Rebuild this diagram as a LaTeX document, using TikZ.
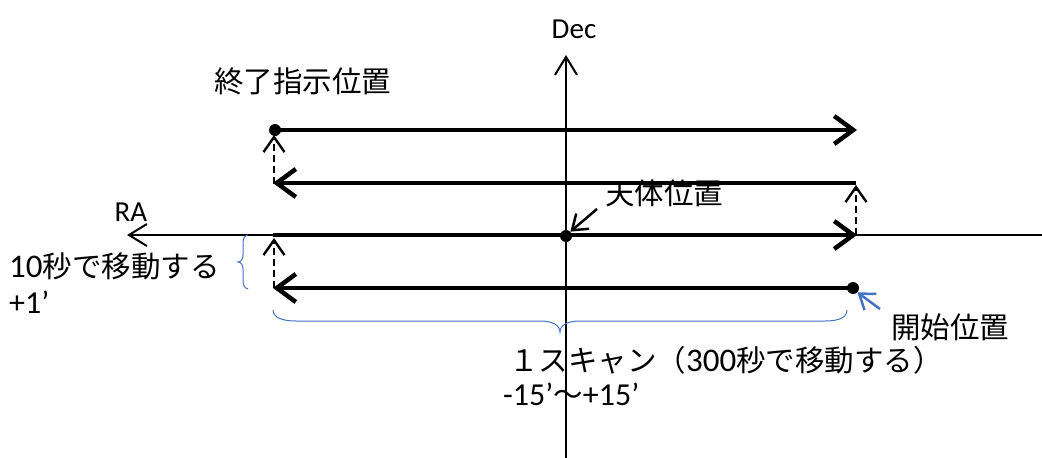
\documentclass[tikz,border=0pt]{standalone}
\usepackage{fontspec}
\setmainfont{Carlito}
\newfontfamily\jp{Noto Sans CJK JP}
\usetikzlibrary{arrows.meta}
\definecolor{bracebl}{RGB}{68,114,196}
\newcommand{\bigdig}[1]{{\fontsize{33}{32}\selectfont #1}}
\tikzset{
  lbl/.style={inner sep=0pt, anchor=west, font=\fontsize{29.5}{32}\selectfont},
  axislbl/.style={inner sep=0pt, font=\fontsize{29}{30}\selectfont},
  axisline/.style={line width=2pt, -{Straight Barb[length=18pt,width=22pt,line width=2pt]}},
  scanline/.style={line width=4.5pt, -{Straight Barb[length=19pt,width=28pt,line width=4.5pt]}},
  hopline/.style={line width=2.4pt, dash pattern=on 7pt off 4pt, -{Straight Barb[length=15pt,width=21pt,line width=2.4pt]}},
  ptr/.style={line width=2.5pt, -{Straight Barb[length=14pt,width=20pt,line width=2.5pt]}},
  blueptr/.style={bracebl, line width=2.5pt, -{Straight Barb[length=14pt,width=20pt,line width=2.5pt]}},
  bracestyle/.style={bracebl, line width=1pt},
  dot/.style={circle, fill=black, inner sep=0pt, minimum size=12pt}
}
\begin{document}
\begin{tikzpicture}[x=1pt,y=-1pt]
\useasboundingbox (0,0) rectangle (1042,458);
% axes
\coordinate (raR) at (1042,235);
\coordinate (raL) at (127,235);
\coordinate (decB) at (566,458);
\coordinate (decT) at (566,55);
\draw[axisline] (raR) -- (raL);
\draw[axisline] (decB) -- (decT);
\node[axislbl] (dec) at (574,29) {Dec};
\node[axislbl] (ra) at (131,212) {RA};
% scan lines
\coordinate (a1) at (275,130); \coordinate (a2) at (857,130);
\coordinate (b1) at (856,183); \coordinate (b2) at (273,183);
\coordinate (c1) at (273,235); \coordinate (c2) at (857,235);
\coordinate (d1) at (853,288); \coordinate (d2) at (273,288);
\draw[scanline] (a1) -- (a2);
\draw[scanline] (b1) -- (b2);
\draw[scanline] (c1) -- (c2);
\draw[scanline] (d1) -- (d2);
% hops
\coordinate (h1s) at (274,184); \coordinate (h1e) at (274,135);
\coordinate (h2s) at (856,235); \coordinate (h2e) at (856,185);
\coordinate (h3s) at (274,288); \coordinate (h3e) at (274,238);
\draw[hopline] (h1s) -- (h1e);
\draw[hopline] (h2s) -- (h2e);
\draw[hopline] (h3s) -- (h3e);
% dots
\node[dot] (endpt) at (275,130) {};
\node[dot] (objpt) at (566,236) {};
\node[dot] (startpt) at (853,288) {};
% labels
\node[lbl] (endlbl) at (214,81) {\jp 終了指示位置};
\node[lbl] (objlbl) at (605,193) {\jp 天体位置};
\node[lbl] (startlbl) at (891,327) {\jp 開始位置};
\node[lbl] (tenlbl) at (9,266) {\bigdig{10}{\jp 秒で移動する}};
\node[lbl, font=\fontsize{32}{32}\selectfont] (onelbl) at (9,302) {+1’};
\node[lbl] (scanlbl) at (509,360) {{\jp １スキャン（}\bigdig{300}{\jp 秒で移動する）}};
\node[lbl, font=\fontsize{32}{32}\selectfont] (rangelbl) at (503,394) {-15’{\fontsize{29.5}{32}\selectfont\jp ～}+15’};
% pointers
\coordinate (objtail) at (597,209);
\coordinate (starttail) at (880,309);
\draw[ptr] (objtail) -- (objpt.north east);
\draw[blueptr] (starttail) -- (startpt.south east);
% braces
\draw[bracestyle] (248,235) .. controls (243,236) and (243,240) .. (243,246) -- (243,255)
  .. controls (243,259) and (241,262) .. (238,262)
  .. controls (241,262) and (243,265) .. (243,269) -- (243,280)
  .. controls (243,285) and (244,288) .. (248,289);
\draw[bracestyle] (273,310) .. controls (273,317) and (281,321) .. (296,321) -- (540,321)
  .. controls (552,321) and (560,325) .. (560,332)
  .. controls (560,325) and (568,321) .. (580,321) -- (825,321)
  .. controls (840,321) and (847,317) .. (847,310);
\end{tikzpicture}
\end{document}
